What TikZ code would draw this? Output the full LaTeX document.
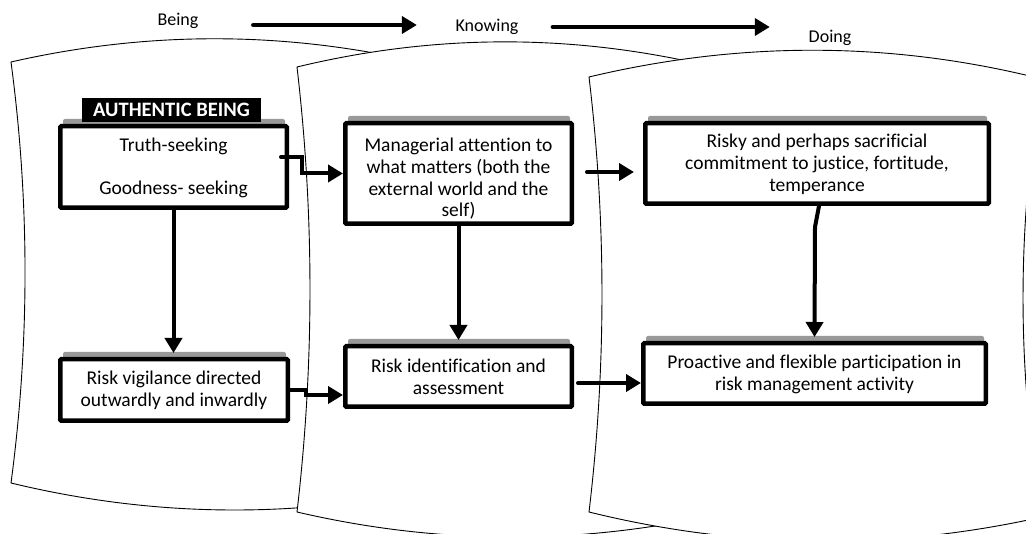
\documentclass[tikz,border=0pt]{standalone}
\usepackage{fontspec}
\setmainfont{Carlito}[Ligatures=NoCommon]
\usetikzlibrary{arrows.meta,calc}
\pgfdeclarelayer{bg}
\pgfdeclarelayer{mid}
\pgfsetlayers{bg,mid,main}
\tikzset{
  panel/.style={draw=black, line width=0.9pt, fill=white},
  box/.style={draw=black, line width=4.5pt, fill=white, inner sep=0pt, rounded corners=1pt},
  strip/.style={fill=black!40, rounded corners=2pt},
  conn/.style={line width=4pt, line cap=round, -{Triangle[length=15pt,width=17pt]}},
  lbl/.style={font=\fontsize{18}{21}\selectfont, inner sep=0pt},
  tag/.style={fill=black, text=white, inner sep=0pt, minimum width=179pt, minimum height=24pt,
    font=\fontsize{20.5}{24}\selectfont\bfseries},
}
\newcommand\boxtext[4]{\parbox[c][#2][t]{#1}{\centering\fontsize{19.5}{21.8}\selectfont\rule{0pt}{#3}#4\par}}
\begin{document}
\begin{tikzpicture}[x=1pt,y=-1pt]
\useasboundingbox (0,0) rectangle (1026,534);
% panels
\begin{pgfonlayer}{bg}
\clip (0,0) rectangle (1026,534);
\draw[panel] (11,62) .. controls (160,28) and (309,31.3) .. (458,72)
  .. controls (439.3,209) and (439.3,346) .. (458,483)
  .. controls (309,519) and (160,519) .. (11,483)
  .. controls (29.7,342.7) and (29.7,202.3) .. cycle;
\draw[panel] (297,67) .. controls (446,31) and (595,33.7) .. (744,75)
  .. controls (725.3,219.3) and (725.3,363.7) .. (744,508)
  .. controls (595,545.3) and (446,546.7) .. (297,512)
  .. controls (314.3,363.7) and (314.3,215.3) .. cycle;
\draw[panel] (589,77) .. controls (740,41) and (891,41) .. (1042,79)
  .. controls (1016.7,225) and (1016.7,371) .. (1042,517)
  .. controls (891,550.7) and (740,549.3) .. (589,512)
  .. controls (606.3,367) and (606.3,222) .. cycle;
\end{pgfonlayer}
% top labels
\node[lbl] (being) at (178,21) {Being};
\node[lbl] (knowing) at (487,27) {Knowing};
\node[lbl] (doing) at (830,38) {Doing};
% boxes
\node[box] (b1) at (173.5,167) {\boxtext{226.5pt}{81.5pt}{25.25pt}{Truth-seeking\\[21.2pt]Goodness- seeking}};
\node[box] (b2) at (458.5,173.5) {\boxtext{226.5pt}{100.5pt}{28.25pt}{Managerial attention to\\what matters (both the\\external world and the\\self)}};
\node[box] (b3) at (817,163.5) {\boxtext{343.5pt}{80.5pt}{24.25pt}{Risky and perhaps sacrificial\\commitment to justice, fortitude,\\temperance}};
\node[box] (b4) at (174,390) {\boxtext{227.5pt}{61.5pt}{25.25pt}{Risk vigilance directed\\outwardly and inwardly}};
\node[box] (b5) at (458.5,376.5) {\boxtext{226.5pt}{60.5pt}{26.25pt}{Risk identification and\\assessment}};
\node[box] (b6) at (814.5,373.5) {\boxtext{342.5pt}{60.5pt}{25.25pt}{Proactive and flexible participation in\\risk management activity}};
% grey strips above boxes
\begin{pgfonlayer}{mid}
\foreach \b in {b1,b2,b3,b4,b5,b6}{
  \fill[strip] ($(\b.north west)+(5,-5)$) rectangle ($(\b.north east)+(-4,3)$);
}
\end{pgfonlayer}
\node[tag] (ab) at (171.5,110) {AUTHENTIC BEING};
% connectors
\coordinate (a1) at ($(being.east)+(54.5,4)$);
\draw[conn] (a1) -- ($(knowing.west |- a1)+(-38.5,0)$);
\coordinate (a2) at ($(knowing.east)+(34,0)$);
\draw[conn] (a2) -- ($(doing.west |- a2)+(-38.7,0)$);
\draw[conn] ($(b1.east)+(-8,-10)$) -- ++(21,0) |- (b2.west);
\draw[conn] (b1.south) -- ($(b1.south |- b4.north)+(0,-4)$);
\draw[conn] (b2.south) -- ($(b5.north)+(0,-4)$);
\coordinate (c4) at ($(b2.east)+(13,-1.5)$);
\draw[conn] (c4) -- ($(b3.west |- c4)+(-9,0)$);
\draw[conn] ($(b3.south)+(2,0)$) -- ($(b3.south)+(-2,21)$) -- ($(b6.north)+(0,-4)$);
\draw[conn] (b4.east) -- ++(16,0) |- ($(b5.west)+(0,18.5)$);
\draw[conn] ($(b5.east)+(4,6.5)$) -- ($(b6.west)+(0,9.5)$);
\end{tikzpicture}
\end{document}
